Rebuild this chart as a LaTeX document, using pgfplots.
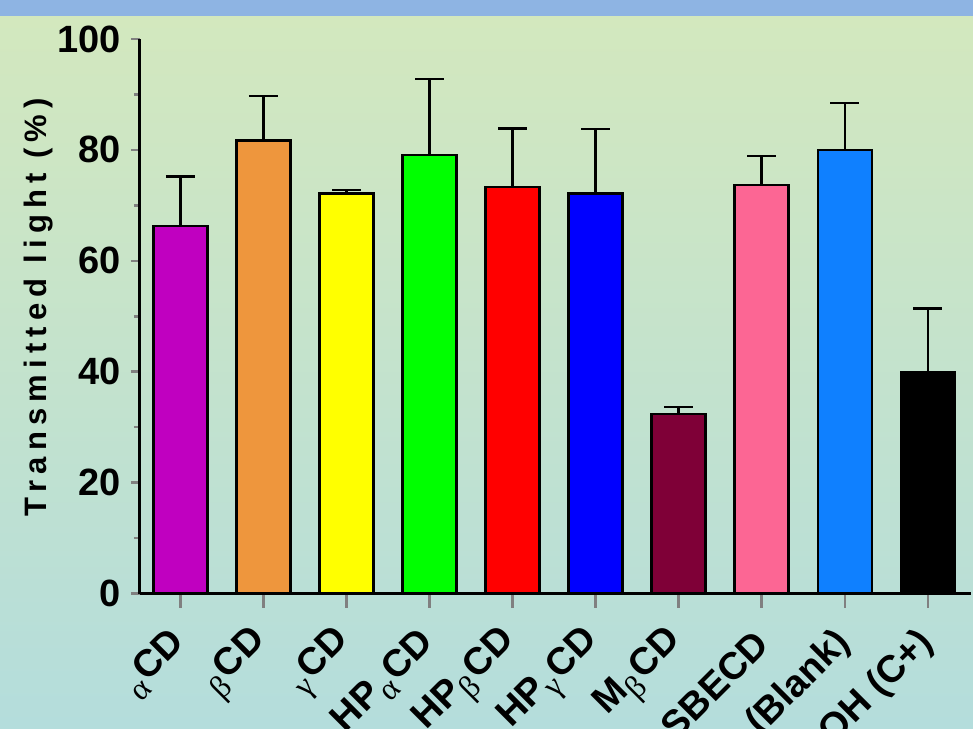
\documentclass[border=0pt]{standalone}
\usepackage{fontspec}
\setmainfont{Liberation Sans}
\newfontfamily\grk{Liberation Serif}
\newfontfamily\ylabfont[LetterSpace=20]{Liberation Sans}
\usepackage{pgfplots}
\pgfplotsset{compat=1.18}
\definecolor{bgtop}{HTML}{D3E8BE}
\definecolor{bgbot}{HTML}{B4DDDC}
\definecolor{band}{HTML}{8EB4E3}
\definecolor{c1}{HTML}{C000C0}
\definecolor{c2}{HTML}{EE963D}
\definecolor{c3}{HTML}{FFFF00}
\definecolor{c4}{HTML}{00FF00}
\definecolor{c5}{HTML}{FF0000}
\definecolor{c6}{HTML}{0000FF}
\definecolor{c7}{HTML}{7F0037}
\definecolor{c8}{HTML}{FC6694}
\definecolor{c9}{HTML}{0F80FF}
\definecolor{c10}{HTML}{000000}
\newcommand{\G}[1]{\raisebox{-10pt}{\grk\mdseries\fontsize{32}{32}\selectfont #1}\kern2pt}
\begin{document}
\begin{tikzpicture}
\path[use as bounding box] (-140pt,-134.5pt) rectangle (833pt,593.5pt);
\fill[top color=bgtop, bottom color=bgbot] (-140pt,-134.5pt) rectangle (833pt,577.5pt);
\fill[band] (-140pt,577.5pt) rectangle (833pt,593.5pt);
\clip (-140pt,-134.5pt) rectangle (833pt,593.5pt);
\begin{axis}[
  at={(0pt,0pt)}, anchor=south west,
  scale only axis, width=831pt, height=554.5pt,
  xmin=-0.487, xmax=9.52, ymin=0, ymax=100,
  axis x line=bottom, axis y line=left,
  axis line style={-, line width=3pt},
  ybar, bar width=54pt, bar shift=0pt,
  xtick={0,...,9},
  xticklabels={{\G{α}CD},{\G{β}CD},{\G{γ}CD},{HP\G{α}CD},{HP\G{β}CD},{HP\G{γ}CD},{M\G{β}CD},{SBECD},{PBS (Blank)},{NaOH (C+)}},
  ytick={0,20,...,100},
  minor y tick num=1,
  tick align=outside,
  xtick style={line width=2.5pt, /pgfplots/major tick length=14pt},
  ytick style={line width=2.5pt, /pgfplots/major tick length=9pt},
  minor tick length=6pt,
  /pgf/number format/assume math mode=true,
  yticklabel style={font=\fontsize{38}{38}\bfseries\selectfont, inner sep=0pt, xshift=-15pt},
  xticklabel style={font=\fontsize{38}{38}\bfseries\selectfont, xshift=0pt, yshift=-40pt, rotate=45, anchor=east, inner sep=0pt},
  ylabel={Transmitted light (\%)},
  ylabel style={font=\ylabfont\fontsize{31}{31}\bfseries\selectfont, at={(axis description cs:-0.1221,0.5167)}, anchor=center},
  every axis plot/.append style={draw=black, line width=2.5pt},
  error bars/y dir=plus, error bars/y explicit,
  error bars/error bar style={line width=2.5pt, black},
  error bars/error mark options={rotate=90, line width=2.5pt, mark size=14.5pt, black},
]
\addplot[fill=c1] coordinates {(0,66.3) +- (0,8.9)};
\addplot[fill=c2] coordinates {(1,81.7) +- (0,8.0)};
\addplot[fill=c3] coordinates {(2,72.1) +- (0,0.7)};
\addplot[fill=c4] coordinates {(3,79.1) +- (0,13.7)};
\addplot[fill=c5] coordinates {(4,73.3) +- (0,10.6)};
\addplot[fill=c6] coordinates {(5,72.1) +- (0,11.7)};
\addplot[fill=c7] coordinates {(6,32.4) +- (0,1.2)};
\addplot[fill=c8] coordinates {(7,73.7) +- (0,5.2)};
\addplot[fill=c9] coordinates {(8,80.0) +- (0,8.5)};
\addplot[fill=c10] coordinates {(9,39.9) +- (0,11.5)};
\end{axis}
\end{tikzpicture}
\end{document}
